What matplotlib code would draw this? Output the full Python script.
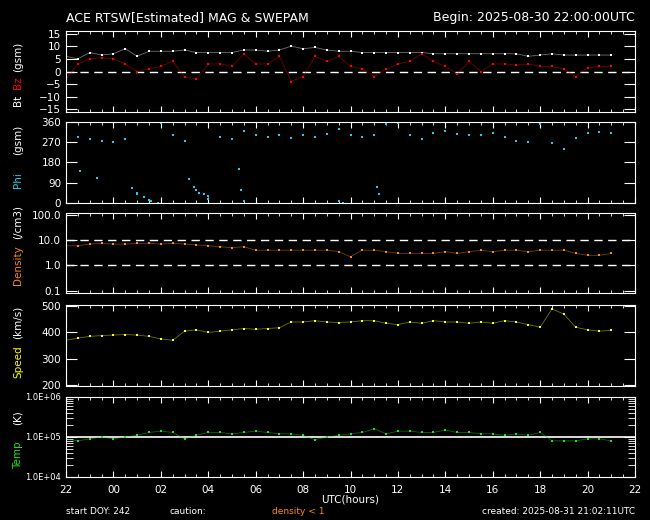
import matplotlib
matplotlib.use("Agg")
import matplotlib.pyplot as plt
from matplotlib.ticker import FixedLocator, MultipleLocator, NullFormatter, LogLocator
import numpy as np

hours = [i * 0.5 for i in range(47)]  # hours since 2025-08-30 22:00 UTC

bt = [6, 5, 7.5, 6.5, 7, 9, 6, 8, 8, 8, 8.5, 7.5, 7.5, 7.5, 7.5, 8.5, 8.5, 8, 8.5, 10,
      9, 9.5, 8.5, 8, 8, 7.5, 7.5, 7.5, 7.5, 7.5, 7.5, 7, 7, 7, 7, 7, 7, 7, 7, 6,
      6.5, 7, 6.5, 6.5, 6.5, 6.5, 6.5]
bz = [-3, 3, 5, 5.5, 5, 3, 0, 1, 2, 4, -2, -3, 3, 3, 2, 7, 3, 3, 6, -4,
      -2, 6, 4, 6, 2, 1, -2, 1, 3, 4, 7, 4, 2, -1, 4, 0, 3, 3, 2.5, 3,
      2, 2, 1, -2, 1.5, 2, 2]
phi = [300, 295, 285, 275, 270, 285, 40, 15, 355, 300, 275, 60, 30, 295, 285, 320, 300, 295, 300, 290,
       300, 295, 305, 330, 300, 295, 300, 350, 355, 300, 285, 310, 320, 305, 300, 300, 310, 295, 275, 270,
       350, 265, 240, 290, 310, 315, 310]
phi_low_t = [0.6, 1.3, 2.8, 3.0, 3.3, 3.6, 3.9, 5.2, 5.4, 5.6, 5.8, 6.0, 7.3, 7.4, 7.5, 11.5, 11.7, 13.1, 13.2]
phi_low_v = [140, 110, 65, 45, 25, 10, 2, 105, 70, 45, 40, 20, 150, 60, 10, 10, 0, 70, 40]
density = [6, 6, 7, 7.5, 7, 7, 7.5, 7.5, 7, 7.5, 7, 6.5, 6, 5.5, 5, 5.5, 4, 4, 4, 4,
           4, 4, 4, 3.5, 2.2, 4, 4, 3.5, 3, 3, 3, 3, 3.5, 3, 3.5, 4, 3.5, 4, 4, 3.5,
           4, 4, 4, 3, 2.5, 2.5, 3]
speed = [370, 378, 385, 388, 390, 392, 390, 385, 375, 370, 405, 410, 400, 405, 410, 415, 412, 415, 418, 440,
         440, 445, 440, 438, 440, 445, 445, 435, 430, 440, 435, 445, 440, 440, 435, 440, 435, 445, 440, 430,
         420, 490, 470, 420, 410, 405, 408]
temp = [0.9e5, 0.8e5, 0.9e5, 1.0e5, 0.9e5, 1.0e5, 1.1e5, 1.3e5, 1.4e5, 1.3e5, 0.9e5, 1.1e5, 1.3e5, 1.3e5, 1.2e5,
        1.3e5, 1.4e5, 1.3e5, 1.2e5, 1.2e5, 1.1e5, 0.85e5, 1.0e5, 1.1e5, 1.2e5, 1.3e5, 1.6e5, 1.2e5, 1.4e5, 1.4e5,
        1.3e5, 1.3e5, 1.5e5, 1.3e5, 1.3e5, 1.2e5, 1.2e5, 1.1e5, 1.2e5, 1.1e5, 1.3e5, 0.8e5, 0.8e5, 0.8e5, 0.9e5,
        0.9e5, 0.8e5]
xtick_labels = ["22", "00", "02", "04", "06", "08", "10", "12", "14", "16", "18", "20", "22"]

W, H = 650, 520
fig = plt.figure(figsize=(6.5, 5.2), dpi=100, facecolor="black")
FS = 7.5
panels = [(31, 112), (122, 203), (213, 293), (305, 386), (397, 477)]
axes = []
for top, bot in panels:
    ax = fig.add_axes([66 / W, 1 - bot / H, (635 - 66) / W, (bot - top) / H])
    ax.set_facecolor("black")
    for s in ax.spines.values():
        s.set_color("white")
    ax.set_xlim(0, 24)
    ax.xaxis.set_major_locator(MultipleLocator(2))
    ax.xaxis.set_minor_locator(MultipleLocator(0.5))
    ax.tick_params(axis="both", which="both", direction="in", colors="white",
                   top=True, right=True, labelsize=FS)
    ax.tick_params(axis="x", which="major", length=4)
    ax.tick_params(axis="x", which="minor", length=2)
    ax.tick_params(axis="y", which="major", length=8)
    ax.tick_params(axis="y", which="minor", length=5)
    ax.set_xticklabels([])
    axes.append(ax)

def dots(ax, x, y, c):
    ax.plot(x, y, color=c, lw=0.6, alpha=0.45)
    ax.plot(x, y, "s", color=c, ms=1.8, mew=0)

ax = axes[0]
ax.set_ylim(-16, 16)
ax.set_yticks([-15, -10, -5, 0, 5, 10, 15])
ax.axhline(0, color="white", ls=(0, (6, 4)), lw=1)
dots(ax, hours, bt, "white")
dots(ax, hours, bz, "red")

ax = axes[1]
ax.set_ylim(0, 360)
ax.set_yticks([0, 90, 180, 270, 360])
ax.plot(hours, phi, "s", color="#22ccee", ms=1.8, mew=0)
ax.plot(phi_low_t, phi_low_v, "s", color="#22ccee", ms=1.8, mew=0)

ax = axes[2]
ax.set_yscale("log")
ax.set_ylim(0.08, 120)
ax.yaxis.set_major_locator(FixedLocator([0.1, 1, 10, 100]))
ax.yaxis.set_minor_locator(LogLocator(subs=np.arange(2, 10)))
ax.set_yticklabels(["0.1", "1.0", "10.0", "100.0"])
ax.yaxis.set_minor_formatter(NullFormatter())
for v in (1, 10):
    ax.axhline(v, color="white", ls=(0, (6, 4)), lw=1)
dots(ax, hours, density, "#ff8c00")

ax = axes[3]
ax.set_ylim(195, 505)
ax.set_yticks([200, 300, 400, 500])
dots(ax, hours, speed, "yellow")

ax = axes[4]
ax.set_yscale("log")
ax.set_ylim(1e4, 1e6)
ax.yaxis.set_major_locator(FixedLocator([1e4, 1e5, 1e6]))
ax.yaxis.set_minor_locator(LogLocator(subs=np.arange(2, 10)))
ax.set_yticklabels(["1.0E+04", "1.0E+05", "1.0E+06"])
ax.yaxis.set_minor_formatter(NullFormatter())
ax.tick_params(axis="y", labelsize=6)
ax.axhline(1e5, color="white", lw=1.2)
dots(ax, hours, temp, "#22dd22")
ax.set_xticks(range(0, 25, 2))
ax.set_xticklabels(xtick_labels, color="white", fontsize=FS)
ax.tick_params(axis="x", pad=6)

def ft(x, y, s, c="white", **kw):
    fig.text(x / W, 1 - y / H, s, color=c, fontsize=kw.pop("fs", FS), **kw)

ft(66, 18, "ACE RTSW[Estimated] MAG & SWEPAM", fs=9, va="center")
ft(635, 18, "Begin: 2025-08-30 22:00:00UTC", fs=9, va="center", ha="right")
ft(350, 500, "UTC(hours)", ha="center", va="center")
ft(66, 512, "start DOY: 242", fs=6.5, va="center")
ft(170, 512, "caution:", fs=6.5, va="center")
ft(272, 512, "density < 1", c="#ff8c00", fs=6.5, va="center")
ft(635, 512, "created: 2025-08-31 21:02:11UTC", fs=6.5, va="center", ha="right")

ylabels = [
    [(100, "Bt", "white"), (83, "Bz", "red"), (57, "(gsm)", "white")],
    [(180, "Phi", "#22ccee"), (140, "(gsm)", "white")],
    [(265, "Density", "#ff8c00"), (222, "(/cm3)", "white")],
    [(362, "Speed", "yellow"), (322, "(km/s)", "white")],
    [(455, "Temp", "#22dd22"), (418, "(K)", "white")],
]
for group in ylabels:
    for y, s, c in group:
        ft(18, y, s, c=c, rotation=90, ha="center", va="center")

fig.savefig("out.png", dpi=100, facecolor="black")
